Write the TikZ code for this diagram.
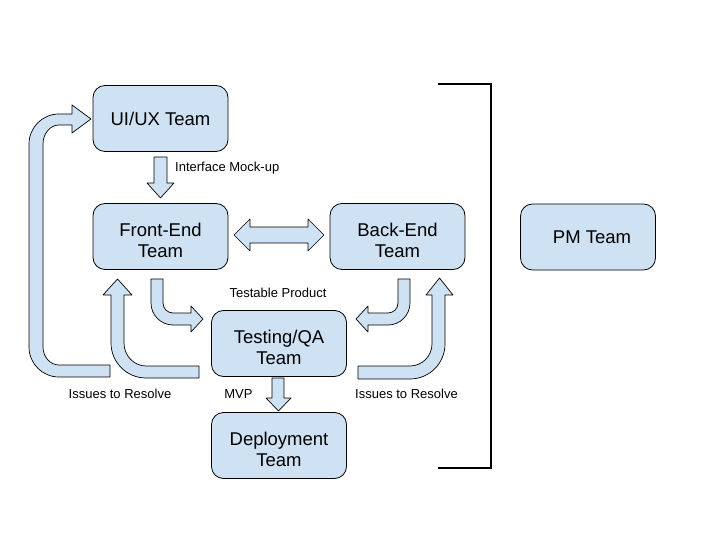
\documentclass[tikz,border=0pt]{standalone}
\usepackage{fontspec}
\setmainfont{Liberation Sans}
\definecolor{boxblue}{HTML}{CFE2F3}
\newcommand\myTopStrut{\rule{0pt}{21.5pt}}
\begin{document}
\begin{tikzpicture}[x=1pt,y=-1pt,
  team/.style={draw=black,line width=0.8pt,fill=boxblue,rounded corners=12pt,
    minimum width=135pt,minimum height=66pt,align=center,inner sep=0pt,
    font=\fontsize{18.5}{21}\selectfont},
  blockarrow/.style={draw=black,line width=0.7pt,fill=boxblue,line join=round},
  lbl/.style={font=\fontsize{13}{15}\selectfont,inner sep=0pt},
  bracketline/.style={line width=2.6pt,line cap=butt}]
\useasboundingbox (0,0) rectangle (720,540);
% teams
\node[team] (ui) at (160.5,118.5) {UI/UX Team};
\node[team] (fe) at (160.5,236.5) {\myTopStrut Front-End\\Team};
\node[team] (be) at (397.5,236.5) {\myTopStrut Back-End\\Team};
\node[team] (qa) at (279,343.5) {\myTopStrut Testing/QA\\Team};
\node[team] (dep) at (279,445.5) {\myTopStrut Deployment\\Team};
\node[team] (pm) at (588,237) {\hspace*{8pt}PM Team};
% labels
\node[lbl,anchor=west] (lmock) at (175,168) {Interface Mock-up};
\node[lbl] (ltest) at (278,293) {Testable Product};
\node[lbl] (liss1) at (120,394) {Issues to Resolve};
\node[lbl] (lmvp) at (238.5,394) {MVP};
\node[lbl] (liss2) at (406.5,394) {Issues to Resolve};
% UI -> FE
\draw[blockarrow] (154,157) -- (167,157) -- (167,183) -- (174,183) -- (160.5,198)
  -- (147,183) -- (154,183) -- cycle;
% FE <-> BE
\draw[blockarrow] (234,235) -- (250,219) -- (250,227) -- (308,227) -- (308,219)
  -- (324,235) -- (308,251) -- (308,243) -- (250,243) -- (250,251) -- cycle;
% FE -> QA
\draw[blockarrow] (151,279) -- (163,279) -- (163,303)
  .. controls (163,308.5) and (167.5,313) .. (173,313) -- (191,313) -- (191,306)
  -- (203,319) -- (191,332) -- (191,325) -- (173,325)
  .. controls (160.9,325) and (151,315.1) .. (151,303) -- cycle;
% BE -> QA
\draw[blockarrow] (410,279) -- (398,279) -- (398,303)
  .. controls (398,308.5) and (393.5,313) .. (388,313) -- (368,313) -- (368,306)
  -- (356,319) -- (368,332) -- (368,325) -- (388,325)
  .. controls (400.1,325) and (410,315.1) .. (410,303) -- cycle;
% QA -> FE
\draw[blockarrow] (199,366) -- (146,366)
  .. controls (133.9,366) and (124,355.7) .. (124,343) -- (124,295) -- (132,295)
  -- (117.5,279) -- (103,295) -- (111,295) -- (111,343)
  .. controls (111,362.3) and (126.7,378) .. (146,378) -- (199,378) -- cycle;
% QA -> UI
\draw[blockarrow] (110,365) -- (59,365)
  .. controls (50.2,365) and (43,356.9) .. (43,347) -- (43,144)
  .. controls (43,133.5) and (50.2,125) .. (59,125) -- (72,125) -- (72,133)
  -- (91,119) -- (72,105) -- (72,114) -- (59,114)
  .. controls (42.4,114) and (29,127.4) .. (29,144) -- (29,347)
  .. controls (29,363.6) and (42.4,377) .. (59,377) -- (110,377) -- cycle;
% QA -> BE
\draw[blockarrow] (358,366) -- (410,366)
  .. controls (422.1,366) and (432,356.1) .. (432,344) -- (432,295) -- (426,295)
  -- (439.5,278) -- (453,295) -- (445,295) -- (445,344)
  .. controls (445,363.3) and (429.3,379) .. (410,379) -- (358,379) -- cycle;
% QA -> Deployment
\draw[blockarrow] (272,378) -- (284,378) -- (284,398) -- (291,398) -- (278.5,411)
  -- (266,398) -- (272,398) -- cycle;
% bracket
\coordinate (bt) at (438,84);
\coordinate (bb) at (438,468);
\draw[bracketline] (bt) -- (491,84) -- (491,468) -- (bb);
\end{tikzpicture}
\end{document}
